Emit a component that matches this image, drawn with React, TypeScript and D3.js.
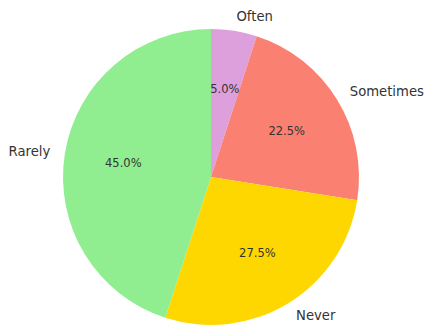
import React from "react";
import * as d3 from "d3";

const categories = ["Often", "Sometimes", "Never", "Rarely"];
const values = [5.0, 22.5, 27.5, 45.0];
const colors = ["#dda0dd", "#fa8072", "#ffd700", "#90ee90"];

export default function App() {
  const W = 424, H = 326;
  const cx = 211, cy = 177, r = 148;
  const pie = d3.pie<number>().sort(null).startAngle(0).endAngle(2 * Math.PI)(values);
  const arc = d3.arc<d3.PieArcDatum<number>>().innerRadius(0).outerRadius(r);
  const total = d3.sum(values);
  return (
    <svg width={W} height={H} style={{ position: "absolute", left: 0, top: 0, fontFamily: "DejaVu Sans" }}>
      <rect width={W} height={H} fill="#fff" />
      <g transform={`translate(${cx},${cy})`}>
        {pie.map((p, i) => (
          <path key={i} d={arc(p) || ""} fill={colors[i]} />
        ))}
        {pie.map((p, i) => {
          const a = (p.startAngle + p.endAngle) / 2;
          const lx = 1.1 * r * Math.sin(a);
          const ly = -1.1 * r * Math.cos(a);
          const px = 0.6 * r * Math.sin(a);
          const py = -0.6 * r * Math.cos(a);
          return (
            <g key={i}>
              <text x={lx} y={ly} fontSize={13.2} fill="#333" textAnchor={lx >= 0 ? "start" : "end"} dominantBaseline="central">
                {categories[i]}
              </text>
              <text x={px} y={py} fontSize={11.5} fill="#333" textAnchor="middle" dominantBaseline="central">
                {((values[i] / total) * 100).toFixed(1)}%
              </text>
            </g>
          );
        })}
      </g>
    </svg>
  );
}
